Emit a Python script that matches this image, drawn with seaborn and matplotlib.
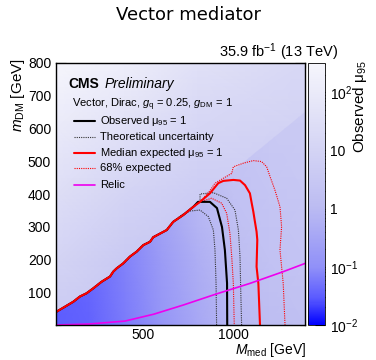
import numpy as np
import matplotlib
matplotlib.use('Agg')
import matplotlib.pyplot as plt
from matplotlib.colors import LinearSegmentedColormap, LogNorm
from matplotlib.patches import Polygon
from matplotlib.ticker import MultipleLocator, LogLocator, NullFormatter
import seaborn as sns

sns.set_style('ticks')
plt.rcParams['font.family'] = ['Liberation Sans', 'DejaVu Sans']
plt.rcParams['mathtext.fontset'] = 'custom'
plt.rcParams['mathtext.rm'] = 'Liberation Sans'
plt.rcParams['mathtext.it'] = 'Liberation Sans:italic'
plt.rcParams['mathtext.bf'] = 'Liberation Sans:bold'
plt.rcParams['axes.edgecolor'] = 'black'
plt.rcParams['text.color'] = 'black'
plt.rcParams['xtick.color'] = 'black'
plt.rcParams['ytick.color'] = 'black'

# shared wavy edge along m_DM ~ M_med/2
diag_med = [21, 67, 113, 150, 187, 224, 270, 317, 335, 354, 390, 428, 465, 502, 539, 557, 632, 668, 724, 780, 817]
diag_dm = [41, 56, 71, 87, 97, 112, 132, 148, 163, 173, 188, 209, 224, 244, 254, 268, 290, 315, 336, 361, 376]

# observed mu95 = 1
obs_med = [806, 872, 911, 939, 955, 967, 968]
obs_dm = [376, 376, 357, 299, 229, 128, 0]
# theory uncertainty band
theo_up_med = [817, 891, 965, 1011, 1030, 1039, 1043, 1048]
theo_up_dm = [400, 404, 387, 351, 290, 209, 107, 0]
theo_dn_med = [720, 761, 817, 863, 891, 900, 906, 909]
theo_dn_dm = [338, 348, 351, 331, 290, 229, 127, 0]
# median expected and 68% band
exp_med = [872, 918, 946, 1002, 1039, 1067, 1094, 1104, 1113, 1122, 1131, 1135, 1131, 1141, 1150]
exp_dm = [402, 433, 440, 443, 441, 427, 402, 372, 346, 315, 285, 260, 178, 127, 0]
exp_up_med = [872, 900, 946, 993, 1002, 1057, 1113, 1159, 1187, 1206, 1233, 1261, 1270, 1261, 1279, 1289]
exp_up_dm = [410, 433, 448, 463, 483, 494, 502, 499, 483, 453, 412, 361, 300, 229, 127, 0]
exp_dn_med = [881, 937, 965, 983, 993, 1002, 1007]
exp_dn_dm = [387, 372, 341, 280, 209, 127, 0]
# relic density
relic_med = [17, 200, 400, 560, 724, 909, 1094, 1280, 1400]
relic_dm = [0, 3, 12, 33, 61, 95, 127, 163, 188]

# observed mu95 map (coarse reading of the colour field)
hi_med = [17, 400, 800, 1400]
hi_dm = [0, 200, 400, 600, 800]
hi_mu = [[4, 3, 2, 2],
         [10, 4, 3, 3],
         [30, 10, 5, 5],
         [100, 40, 12, 8],
         [300, 150, 40, 15]]
lo_med = [17, 200, 400, 600, 800, 1000, 1200, 1400]
lo_dm = [0, 200, 400, 600, 800]
lo_mu = [[0.03, 0.035, 0.06, 0.13, 0.35, 0.8, 1.2, 1.5],
         [0.03, 0.04, 0.07, 0.18, 0.5, 1.2, 1.8, 2.2],
         [0.04, 0.05, 0.09, 0.3, 0.9, 1.8, 2.5, 3],
         [0.1, 0.1, 0.2, 0.5, 1.5, 2.5, 3.5, 4],
         [0.2, 0.2, 0.4, 1.0, 2.5, 3.5, 5, 6]]

cmap = LinearSegmentedColormap.from_list('bw', [
    (0.0, '#0000ff'), (0.1, '#5a5aff'), (0.22, '#9090f8'), (0.45, '#bcbcf2'),
    (0.65, '#d2d2f4'), (0.85, '#e6e6f8'), (1.0, '#f6f6fc')])
norm = LogNorm(vmin=0.01, vmax=316)

fig = plt.figure(figsize=(3.76, 3.60), dpi=100)
W, H = 376, 360
ax = fig.add_axes([56 / W, (H - 325) / H, (305 - 56) / W, (325 - 63) / H])
cax = fig.add_axes([308 / W, (H - 325) / H, 17 / W, (325 - 63) / H])

X, Y = np.meshgrid(hi_med, hi_dm)
ax.pcolormesh(X, Y, np.array(hi_mu), shading='gouraud', cmap=cmap, norm=norm)
X, Y = np.meshgrid(lo_med, lo_dm)
mesh = ax.pcolormesh(X, Y, np.array(lo_mu), shading='gouraud', cmap=cmap, norm=norm)
clip = Polygon([(0, 0), (0, 35)] + list(zip(diag_med, diag_dm)) +
               [(918, 433), (1000, 470), (1400, 650), (1400, 0)],
               closed=True, transform=ax.transData, fc='none', ec='none')
ax.add_patch(clip)
mesh.set_clip_path(clip)

dot = (0, (1, 1))
sns.lineplot(x=diag_med[:18] + theo_dn_med, y=diag_dm[:18] + theo_dn_dm, sort=False,
             estimator=None, color='#333333', lw=0.8, linestyle=dot, ax=ax)
sns.lineplot(x=diag_med + theo_up_med, y=diag_dm + theo_up_dm, sort=False,
             estimator=None, color='#333333', lw=0.8, linestyle=dot, ax=ax)
sns.lineplot(x=diag_med + exp_dn_med, y=diag_dm + exp_dn_dm, sort=False,
             estimator=None, color='red', lw=0.8, linestyle=dot, ax=ax)
sns.lineplot(x=diag_med + exp_up_med, y=diag_dm + exp_up_dm, sort=False,
             estimator=None, color='red', lw=0.8, linestyle=dot, ax=ax)
sns.lineplot(x=diag_med[:-1] + obs_med, y=diag_dm[:-1] + obs_dm, sort=False,
             estimator=None, color='black', lw=1.5, ax=ax)
sns.lineplot(x=diag_med + exp_med, y=diag_dm + exp_dm, sort=False,
             estimator=None, color='red', lw=1.5, ax=ax)
sns.lineplot(x=relic_med, y=relic_dm, sort=False, estimator=None,
             color='#ee00ee', lw=1.2, ax=ax)

ax.set_xlim(17, 1400)
ax.set_ylim(0, 800)
ax.set_xlabel('')
ax.set_ylabel('')
ax.xaxis.set_major_locator(MultipleLocator(500))
ax.xaxis.set_minor_locator(MultipleLocator(50))
ax.yaxis.set_major_locator(MultipleLocator(100))
ax.yaxis.set_minor_locator(MultipleLocator(20))
ax.set_yticks([100, 200, 300, 400, 500, 600, 700, 800])
ax.tick_params(which='both', direction='in', top=True, right=True, width=0.8, labelsize=10)
ax.tick_params(which='major', length=7)
ax.tick_params(which='minor', length=3.5)
ax.tick_params(axis='x', pad=2)
for sp in ax.spines.values():
    sp.set_linewidth(1.0)

cb = fig.colorbar(mesh, cax=cax)
cb.outline.set_linewidth(0.6)
cax.yaxis.set_major_locator(LogLocator(base=10, numticks=10))
cax.yaxis.set_minor_locator(LogLocator(base=10, subs=np.arange(2, 10), numticks=20))
cax.yaxis.set_minor_formatter(NullFormatter())
cb.set_ticks([0.01, 0.1, 1, 10, 100])
cb.set_ticklabels([r'$10^{-2}$', r'$10^{-1}$', '1', '10', r'$10^{2}$'])
cax.tick_params(which='both', direction='in', width=0.8, labelsize=10)
cax.tick_params(which='major', length=7)
cax.tick_params(which='minor', length=3.5)

fig.text(188 / W, 1 - 15 / H, 'Vector mediator', ha='center', va='center',
         fontsize=13, family='DejaVu Sans')
fig.text(338 / W, 1 - 52 / H, r'35.9 fb$^{-1}$ (13 TeV)', ha='right', va='center', fontsize=10.5)
fig.text(18 / W, 1 - 58 / H, r'$m_{\mathrm{DM}}$ [GeV]', rotation=90, ha='center', va='top', fontsize=11)
fig.text(306 / W, 1 - 350 / H, r'$M_{\mathrm{med}}$ [GeV]', ha='right', va='center', fontsize=10)
fig.text(360 / W, 1 - 60 / H, r'Observed $\mathrm{\mu}_{95}$', rotation=90, ha='center', va='top', fontsize=11)

fig.text(68 / W, 1 - 84 / H, 'CMS', fontsize=10, weight='bold', va='center')
fig.text(105 / W, 1 - 84 / H, 'Preliminary', fontsize=10, style='italic', va='center')
fig.text(72 / W, 1 - 105 / H, r'Vector, Dirac, $g_{\mathrm{q}}$ = 0.25, $g_{\mathrm{DM}}$ = 1',
         fontsize=8, va='center')
entries = [('Observed $\\mathrm{\\mu}_{95}$ = 1', 'black', 1.5, '-', 121),
           ('Theoretical uncertainty', '#333333', 0.8, dot, 137),
           ('Median expected $\\mathrm{\\mu}_{95}$ = 1', 'red', 1.5, '-', 153),
           ('68% expected', 'red', 0.8, dot, 168),
           ('Relic', '#ee00ee', 1.2, '-', 185)]
for label, col, lw, ls, ypx in entries:
    fig.add_artist(plt.Line2D([74 / W, 95 / W], [1 - ypx / H, 1 - ypx / H], color=col,
                              lw=lw, linestyle=ls, transform=fig.transFigure))
    fig.text(100 / W, 1 - ypx / H, label, fontsize=8, va='center')

fig.savefig('out.png', dpi=100)
